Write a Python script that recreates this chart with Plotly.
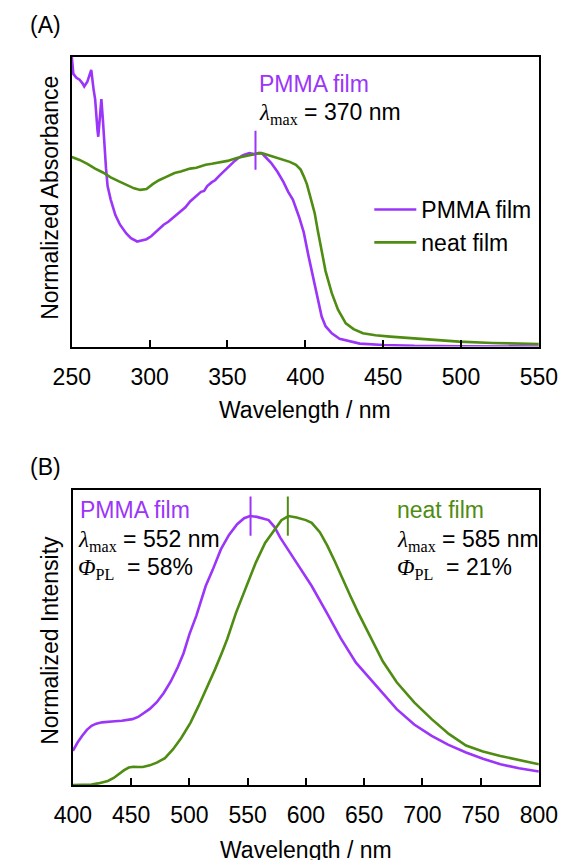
import plotly.graph_objects as go

# ---------------- data ----------------
# (A) absorption, PMMA film
abs_pmma_wl = [250, 251, 253, 255, 257, 258, 260, 262.5, 264, 265, 266.5, 267, 268, 269, 270, 270.5,
               272, 273, 275, 278, 281, 285, 288, 292, 295, 298, 301, 305, 309, 312, 315, 318, 320,
               323, 326, 329, 332, 333, 335, 337, 340, 342, 345, 348, 351, 354, 357, 360, 364, 367,
               370, 372, 375, 378, 382, 386, 389, 392, 396, 399, 402, 406, 408, 410.5, 413, 417,
               422, 428, 435, 450, 470, 500, 550]
abs_pmma = [1.50, 1.41, 1.39, 1.38, 1.36, 1.345, 1.37, 1.43, 1.33, 1.28, 1.12, 1.085, 1.18, 1.28, 1.17, 1.10,
            0.92, 0.83, 0.76, 0.68, 0.63, 0.585, 0.56, 0.543, 0.548, 0.555, 0.57, 0.60, 0.63, 0.645, 0.665,
            0.685, 0.70, 0.72, 0.75, 0.77, 0.79, 0.80, 0.805, 0.83, 0.85, 0.86, 0.885, 0.91, 0.93, 0.955,
            0.975, 0.99, 1.0, 0.995, 1.0, 1.0, 0.975, 0.95, 0.905, 0.85, 0.80, 0.76, 0.67, 0.59, 0.47,
            0.327, 0.24, 0.155, 0.105, 0.068, 0.04, 0.027, 0.015, 0.008, 0.003, 0.001, 0.0]

# (A) absorption, neat film
abs_neat_wl = [250, 255, 260, 265, 270, 275, 280, 285, 290, 294, 298, 302, 306, 310, 316, 320, 326, 330,
               336, 340, 346, 350, 356, 360, 365, 370, 373, 378, 385, 390, 394, 397, 399, 401, 403, 406,
               408, 410.5, 413, 417, 421, 426, 431, 437, 445, 454.5, 470, 485, 498.7, 520, 550]
abs_neat = [0.98, 0.965, 0.945, 0.92, 0.90, 0.875, 0.855, 0.835, 0.818, 0.81, 0.815, 0.84, 0.86, 0.875,
            0.897, 0.905, 0.92, 0.925, 0.94, 0.945, 0.955, 0.96, 0.975, 0.98, 0.99, 1.0, 0.998, 0.985,
            0.968, 0.955, 0.94, 0.915, 0.88, 0.84, 0.78, 0.69, 0.60, 0.50, 0.39, 0.276, 0.19, 0.12, 0.09,
            0.069, 0.058, 0.051, 0.042, 0.033, 0.025, 0.018, 0.013]

# (B) photoluminescence, PMMA film
pl_pmma_wl = [400, 404, 408, 412, 416, 420, 425, 430, 436, 442, 447, 451, 456, 460, 466, 472, 478, 484,
              490, 495, 500, 506, 514, 520, 527, 534, 541, 547, 552, 558, 564, 568, 573, 578, 590, 605,
              618, 630, 643, 658, 678, 693, 708, 722, 737.5, 752, 767, 783, 800]
pl_pmma = [0.127, 0.158, 0.183, 0.205, 0.22, 0.228, 0.233, 0.236, 0.237, 0.239, 0.241, 0.245, 0.253, 0.264,
           0.283, 0.308, 0.342, 0.385, 0.438, 0.49, 0.56, 0.63, 0.74, 0.80, 0.876, 0.93, 0.97, 0.992, 1.0,
           0.997, 0.99, 0.985, 0.96, 0.92, 0.84, 0.74, 0.64, 0.545, 0.455, 0.38, 0.282, 0.225, 0.183,
           0.15, 0.121, 0.098, 0.077, 0.062, 0.05]

# (B) photoluminescence, neat film
pl_neat_wl = [400, 410, 416, 421.6, 426, 430, 435, 439, 444, 448, 452, 456, 460, 466, 472, 479, 486, 493,
              501, 508, 516, 522, 528, 532.5, 540, 549, 557, 565, 573, 579, 585, 592, 600, 605, 612, 618.4,
              625, 632, 638, 645, 652, 660, 666, 678, 693, 708, 722.7, 737.5, 752, 767, 783, 800]
pl_neat = [0.0, 0.0, 0.002, 0.006, 0.01, 0.015, 0.026, 0.04, 0.055, 0.065, 0.068, 0.067, 0.067, 0.073,
           0.083, 0.10, 0.133, 0.175, 0.232, 0.295, 0.369, 0.43, 0.493, 0.543, 0.64, 0.74, 0.827, 0.90,
           0.95, 0.985, 1.0, 0.995, 0.985, 0.975, 0.94, 0.89, 0.83, 0.76, 0.705, 0.64, 0.58, 0.51, 0.46,
           0.382, 0.307, 0.245, 0.19, 0.147, 0.125, 0.108, 0.093, 0.077]

# peak marks (wavelength, value)
abs_peak_wl = [368]
abs_peak_val = [1.015]
pl_peak_wl = [552.5, 584.5]
pl_peak_val = [1.0, 1.0]

series_names = ["PMMA film", "neat film"]
abs_ticks = [250, 300, 350, 400, 450, 500, 550]
pl_ticks = [400, 450, 500, 550, 600, 650, 700, 750, 800]

# ---------------- style ----------------
W, H = 577, 860
PURPLE = "#9b35fa"
GREEN = "#4f8c12"
SANS = "Liberation Sans, Arial, sans-serif"
SERIF = "Liberation Serif, Times New Roman, serif"
FS = 23
LW = 2.6


def px(x):
    return x / W


def py(y):
    return 1 - y / H


fig = go.Figure()
fig.add_trace(go.Scatter(x=abs_pmma_wl, y=abs_pmma, mode="lines", name=series_names[0],
                         line=dict(color=PURPLE, width=LW), xaxis="x", yaxis="y"))
fig.add_trace(go.Scatter(x=abs_neat_wl, y=abs_neat, mode="lines", name=series_names[1],
                         line=dict(color=GREEN, width=LW), xaxis="x", yaxis="y"))
fig.add_trace(go.Scatter(x=abs_peak_wl, y=abs_peak_val, mode="markers", showlegend=False,
                         marker=dict(symbol="line-ns", size=28, line=dict(color=PURPLE, width=2)),
                         xaxis="x", yaxis="y"))
fig.add_trace(go.Scatter(x=pl_pmma_wl, y=pl_pmma, mode="lines", showlegend=False,
                         line=dict(color=PURPLE, width=LW), xaxis="x2", yaxis="y2"))
fig.add_trace(go.Scatter(x=pl_neat_wl, y=pl_neat, mode="lines", showlegend=False,
                         line=dict(color=GREEN, width=LW), xaxis="x2", yaxis="y2"))
fig.add_trace(go.Scatter(x=pl_peak_wl, y=pl_peak_val, mode="markers", showlegend=False,
                         marker=dict(symbol="line-ns", size=28, color=[PURPLE, GREEN],
                                     line=dict(color=[PURPLE, GREEN], width=2)),
                         xaxis="x2", yaxis="y2"))

axis_common = dict(showline=True, linecolor="black", linewidth=1.6, mirror=True,
                   showgrid=False, zeroline=False)
xcommon = dict(axis_common, ticks="inside", ticklen=7, tickwidth=1.6, tickcolor="black",
               tickfont=dict(family=SANS, size=FS, color="black"), ticklabelstandoff=9)
ycommon = dict(axis_common, ticks="", showticklabels=False)

fig.update_layout(
    width=W, height=H, margin=dict(l=0, r=0, t=0, b=0),
    paper_bgcolor="white", plot_bgcolor="white",
    xaxis=dict(xcommon, domain=[px(56.5), px(556.5)], range=[250, 550], tickvals=abs_ticks, anchor="y"),
    yaxis=dict(ycommon, domain=[py(346.5), py(56.5)], range=[0, 1.5], anchor="x"),
    xaxis2=dict(xcommon, domain=[px(57.7), px(556.5)], range=[400, 800], tickvals=pl_ticks, anchor="y2"),
    yaxis2=dict(ycommon, domain=[py(785), py(490)], range=[0, 1.097], anchor="x2"),
    legend=dict(x=px(375), y=py(188), xanchor="left", yanchor="top",
                font=dict(family=SANS, size=FS, color="black"),
                bgcolor="rgba(0,0,0,0)", tracegroupgap=0, itemwidth=42),
    font=dict(family=SANS, size=FS, color="black"),
)


def ann(text, x, y, color="black", xanchor="left", size=FS, angle=0):
    fig.add_annotation(text=text, x=px(x), y=py(y), xref="paper", yref="paper",
                       xanchor=xanchor, yanchor="middle", showarrow=False, textangle=angle,
                       font=dict(family=SANS, size=size, color=color))


def lam(val):
    return (f"<span style='font-family:{SERIF}'><i>λ</i><sub>max</sub></span> = {val}")


def phi(val):
    return (f"<span style='font-family:{SERIF}'><i>Φ</i><sub>PL</sub></span>\u00a0 = {val}")


ann("(A)", 10, 25)
ann("(B)", 10, 467)
ann("Normalized Absorbance", 33, 198, xanchor="center", angle=-90)
ann("Normalized Intensity", 33, 640, xanchor="center", angle=-90)
ann("Wavelength / nm", 306.5, 410, xanchor="center")
ann("Wavelength / nm", 307, 850, xanchor="center")

ann("PMMA film", 255, 84, color=PURPLE)
ann(lam("370 nm"), 255, 114)

ann("PMMA film", 63, 510, color=PURPLE)
ann(lam("552 nm"), 61, 540)
ann(phi("58%"), 61, 568)

ann("neat film", 402, 510, color=GREEN)
ann(lam("585 nm"), 402, 540)
ann(phi("21%"), 402, 568)

fig.write_html("out.html")
